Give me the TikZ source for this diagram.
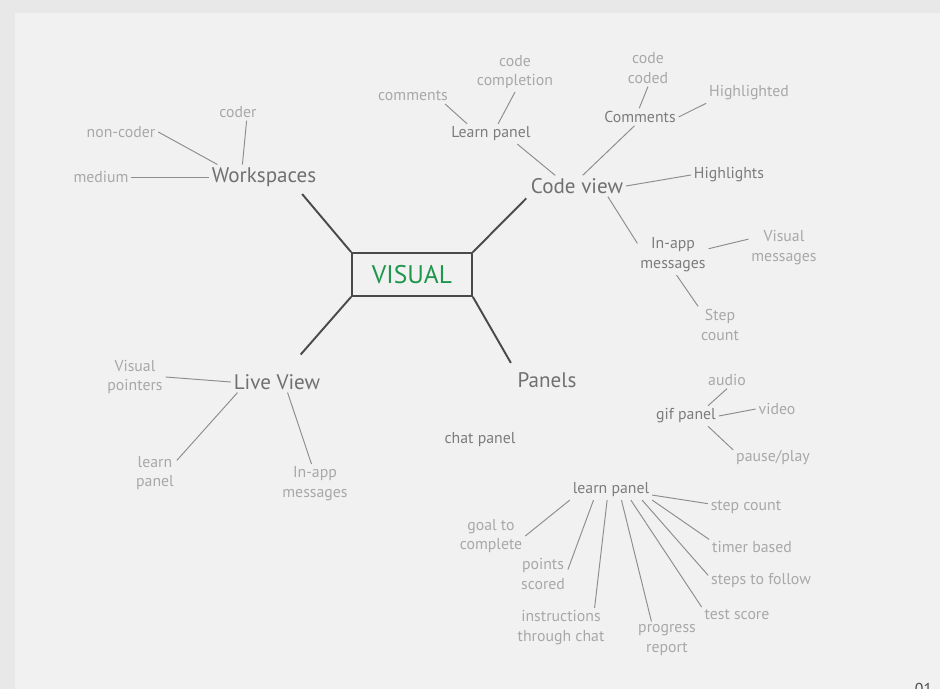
\documentclass[tikz,border=0pt]{standalone}
\usepackage{fontspec}
\setmainfont{PT Sans}
\definecolor{frame}{HTML}{E8E8E8}
\definecolor{paper}{HTML}{F1F1F1}
\definecolor{visgreen}{RGB}{30,150,75}
\definecolor{inkdark}{HTML}{4A4A4A}
\definecolor{inkmid}{HTML}{707070}
\definecolor{inksub}{HTML}{7C7C7C}
\definecolor{inklight}{HTML}{A8A8A8}
\definecolor{twigline}{HTML}{8E8E8E}
\begin{document}
\begin{tikzpicture}[x=0.02cm,y=-0.02cm,
	every node/.style={inner sep=1.5pt},
	hub/.style={draw=inkdark,line width=1pt,fill=paper,text=visgreen,minimum width=2.4cm,minimum height=0.86cm,font=\fontsize{14.5}{17}\selectfont},
	branch/.style={text=inkmid,font=\fontsize{12}{14}\selectfont},
	sub/.style={text=inksub,align=center,font=\fontsize{9}{11.3}\selectfont},
	leaf/.style={text=inklight,align=center,font=\fontsize{9}{11.3}\selectfont},
	trunk/.style={draw=inkdark,line width=1.1pt},
	twig/.style={draw=twigline,line width=0.55pt}]
	% sheet
	\fill[frame] (0,0) rectangle (940,689);
	\fill[paper] (15,13) rectangle (940,689);
	\useasboundingbox (0,0) rectangle (940,689);
	\node[text=inkdark,font=\fontsize{9}{11}\selectfont,anchor=north west] (pagenr) at (912,680) {01};

	% centre and main branches
	\node[hub] (hub) at (412,274.5) {VISUAL};
	\node[branch] (ws) at (264,177) {Workspaces};
	\node[branch] (code) at (577,186) {Code view};
	\node[branch] (live) at (277,382) {Live View};
	\node[branch] (panels) at (547,380) {Panels};
	\draw[trunk,shorten <=0.12cm] (ws.-20) -- (hub.north west);
	\draw[trunk,shorten >=0.05cm] (hub.north east) -- (code.south west);
	\draw[trunk,shorten >=0.45cm] (hub.south west) -- (live.50);
	\draw[trunk,shorten >=0.15cm] (hub.south east) -- (panels.north west);

	% workspaces
	\node[leaf] (medium) at (101,177) {medium};
	\node[leaf] (noncoder) at (121,132) {non-coder};
	\node[leaf] (coder) at (238,112) {coder};
	\draw[twig] (medium.east) -- (ws.west);
	\draw[twig] (noncoder.east) -- (ws.165);
	\draw[twig] (coder.-45) -- (ws.150);

	% code view
	\node[sub] (learn) at (491,134) {Learn panel};
	\node[leaf] (comm) at (413,96) {comments};
	\node[leaf] (compl) at (515,72) {code\\completion};
	\node[sub] (comments) at (640,117) {Comments};
	\node[leaf] (coded) at (648,68) {code\\coded};
	\node[leaf] (hlted) at (749,93) {Highlighted};
	\node[sub] (highlights) at (729,175) {Highlights};
	\node[sub] (inapp) at (673,255) {In-app\\messages};
	\node[leaf] (vismsg) at (784,248) {Visual\\messages};
	\node[leaf] (step) at (720,325) {Step\\count};
	\draw[twig] (learn.-21) -- (code.154);
	\draw[twig] (comm.-14) -- (learn.157);
	\draw[twig] (compl.south) -- (learn.55);
	\draw[twig] (code.62) -- (comments.238);
	\draw[twig] (coded.south) -- (comments.95);
	\draw[twig] (comments.east) -- (hlted.south west);
	\draw[twig] (code.east) -- (highlights.west);
	\draw[twig] (code.-19) -- (inapp.162);
	\draw[twig] (inapp.10) -- (vismsg.166);
	\draw[twig] (inapp.-80) -- (step.north west);

	% live view
	\node[leaf] (vispt) at (135,377) {Visual\\pointers};
	\node[leaf] (lvlearn) at (155,473) {learn\\panel};
	\node[leaf] (lvmsg) at (315,484) {In-app\\messages};
	\draw[twig] (vispt.east) -- (live.west);
	\draw[twig] (live.195) -- (lvlearn.30);
	\draw[twig] (live.-45) -- (lvmsg.100);

	% panels
	\node[sub] (chat) at (480,440) {chat panel};
	\node[sub] (gif) at (686,416) {gif panel};
	\node[leaf] (audio) at (727,380) {audio};
	\node[leaf] (video) at (777,409) {video};
	\node[leaf] (pause) at (773,457) {pause/play};
	\draw[twig] (gif.25) -- (audio.south);
	\draw[twig] (gif.east) -- (video.west);
	\draw[twig] (gif.-25) -- (pause.170);

	\node[sub] (learnb) at (611,490) {learn panel};
	\node[leaf] (stepc) at (746,507) {step count};
	\node[leaf] (timer) at (752,547) {timer based};
	\node[leaf] (follow) at (761,580) {steps to follow};
	\node[leaf] (test) at (737,615) {test score};
	\node[leaf] (progress) at (667,640) {progress\\report};
	\node[leaf] (instr) at (561,628) {instructions\\through chat};
	\node[leaf] (points) at (543,574) {points\\scored};
	\node[leaf] (goal) at (491,536) {goal to\\complete};
	\draw[twig] (learnb.-7) -- (stepc.175);
	\draw[twig] (learnb.south east) -- (timer.170);
	\draw[twig] (learnb.-18) -- (follow.175);
	\draw[twig] (learnb.-27) -- (test.north west);
	\draw[twig] (learnb.-44) -- (progress.130);
	\draw[twig] (learnb.249) -- (instr.31);
	\draw[twig] (learnb.210) -- (points.10);
	\draw[twig] (learnb.south west) -- (goal.east);
\end{tikzpicture}
\end{document}
